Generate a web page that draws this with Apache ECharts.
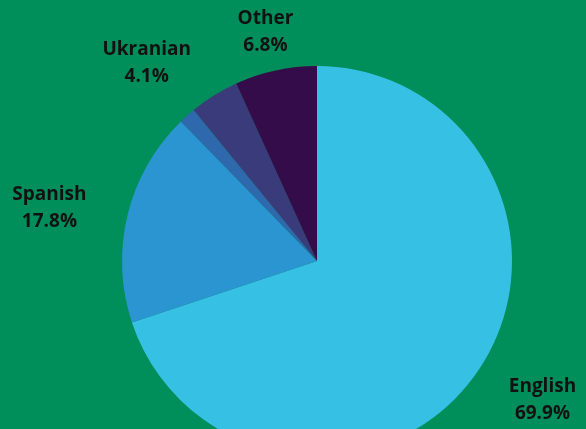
<!DOCTYPE html>
<html>
<head>
<meta charset="utf-8">
<script src="https://cdn.jsdelivr.net/npm/echarts@6/dist/echarts.min.js"></script>
<style>
  html, body { margin: 0; padding: 0; background: #008f5a; }
  #chart { width: 586px; height: 429px; }
</style>
</head>
<body>
<div id="chart"></div>
<script>
const languages = ['English', 'Spanish', 'Minor', 'Ukranian', 'Other'];
const shares = [69.9, 17.8, 1.4, 4.1, 6.8];
const labelled = [true, true, false, true, true];
const colors = ['#36c1e4', '#2a95d1', '#2e69ad', '#3a3b7b', '#350c4a'];

const chart = echarts.init(document.getElementById('chart'), null, { renderer: 'canvas' });

// small nudges so the labels sit where the original put them
const labelNudge = [[13, -14], [-13, 9], [0, 0], [-32, 25], [4, 27]];

const pieData = languages.map((name, i) => ({
  name,
  value: shares[i],
  itemStyle: { color: colors[i] },
}));

const labelData = languages.map((name, i) => ({
  name,
  value: shares[i],
  label: { offset: labelNudge[i] },
}));

chart.setOption({
  backgroundColor: '#008f5a',
  animation: false,
  series: [
    {
      type: 'pie',
      center: [317, 261],
      radius: 195,
      startAngle: 90,
      clockwise: true,
      silent: true,
      label: { show: false },
      labelLine: { show: false },
      data: pieData,
    },
    {
      // transparent ring only used to place the labels
      type: 'pie',
      center: [317, 261],
      radius: [228, 290],
      startAngle: 90,
      clockwise: true,
      silent: true,
      avoidLabelOverlap: false,
      itemStyle: { color: 'transparent' },
      labelLine: { show: false },
      label: {
        show: true,
        position: 'inside',
        fontFamily: 'Open Sans',
        fontWeight: 'bold',
        fontSize: 19,
        lineHeight: 27,
        color: '#111',
        align: 'center',
        formatter: p => (labelled[p.dataIndex] ? `${p.name}\n${p.value}%` : ''),
      },
      data: labelData,
    },
  ],
});
</script>
</body>
</html>
